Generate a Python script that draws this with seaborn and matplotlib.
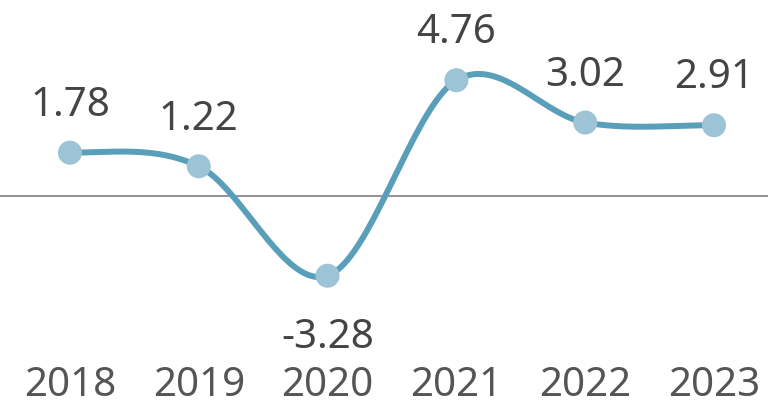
import numpy as np
import pandas as pd
import matplotlib
matplotlib.use('Agg')
import matplotlib.pyplot as plt
import seaborn as sns

years = ['2018', '2019', '2020', '2021', '2022', '2023']
values = [1.78, 1.22, -3.28, 4.76, 3.02, 2.91]

sns.set_style('white')
plt.rcParams['font.family'] = ['Noto Sans', 'DejaVu Sans']

line_col = '#5a9fb9'
dot_col = '#9dc4d6'
text_col = '#444444'


def smooth(xs, ys, n=40):
    # cardinal-style hermite spline, flat at the ends
    xs = np.asarray(xs, float)
    ys = np.asarray(ys, float)
    m = np.zeros_like(ys)
    m[1:-1] = (ys[2:] - ys[:-2]) / 2
    out_x, out_y = [], []
    for i in range(len(xs) - 1):
        t = np.linspace(0, 1, n)
        h00 = 2 * t**3 - 3 * t**2 + 1
        h10 = t**3 - 2 * t**2 + t
        h01 = -2 * t**3 + 3 * t**2
        h11 = t**3 - t**2
        out_x.extend(xs[i] + t)
        out_y.extend(h00 * ys[i] + h10 * m[i] + h01 * ys[i + 1] + h11 * m[i + 1])
    return np.array(out_x), np.array(out_y)


df = pd.DataFrame({'x': np.arange(len(years)), 'value': values})
sx, sy = smooth(df['x'], df['value'])
curve = pd.DataFrame({'x': sx, 'value': sy})

fig = plt.figure(figsize=(7.68, 4.06), dpi=100)
ax = fig.add_axes([0, 0.113, 1, 0.887])

ax.axhline(0, color='#8a8a8a', lw=1.3, zorder=1)
sns.lineplot(data=curve, x='x', y='value', ax=ax, color=line_col, lw=4.3, zorder=2)
sns.scatterplot(data=df, x='x', y='value', ax=ax, color=dot_col, s=300,
                edgecolor='none', zorder=3)

for x, v in zip(df['x'], df['value']):
    if v >= 0:
        ax.annotate(f'{v:.2f}', (x, v), xytext=(0, 20), textcoords='offset points',
                    ha='center', va='bottom', fontsize=29, color=text_col)
    else:
        ax.annotate(f'{v:.2f}', (x, v), xytext=(0, -30), textcoords='offset points',
                    ha='center', va='top', fontsize=29, color=text_col)

ax.set_xlim(-0.543, 5.419)
ax.set_ylim(-6.71, 8.1)
ax.set_xticks(df['x'])
ax.set_xticklabels(years, fontsize=29, color='#555555')
ax.tick_params(axis='x', length=0, pad=4)
ax.set_yticks([])
ax.set_xlabel('')
ax.set_ylabel('')
sns.despine(ax=ax, left=True, bottom=True)

fig.savefig('out.png', dpi=100)
